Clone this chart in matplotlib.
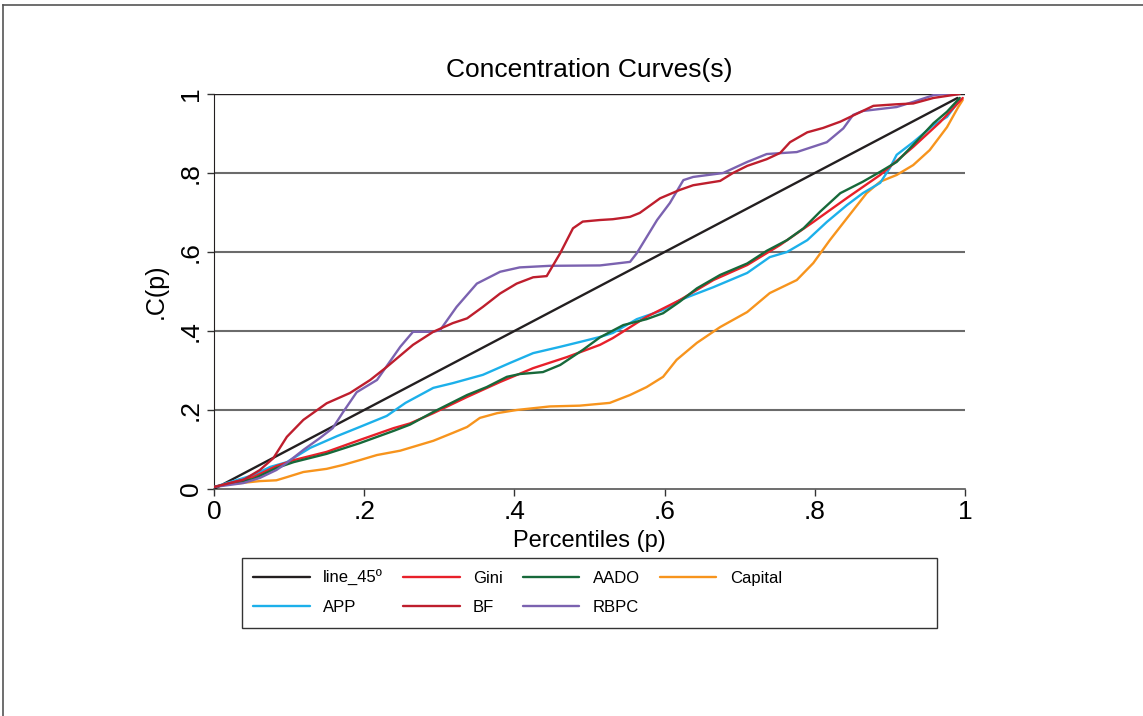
import numpy as np
import matplotlib
matplotlib.use("Agg")
import matplotlib.pyplot as plt
from matplotlib.lines import Line2D
from matplotlib.patches import Rectangle

plt.rcParams['font.family'] = ['Liberation Sans Narrow', 'Liberation Sans', 'DejaVu Sans']

# concentration curves: percentile p -> C(p)
line45_x = [0.0, 0.99]
line45_y = [0.0, 0.99]

gini_x = [0.0, 0.052, 0.083, 0.106, 0.15, 0.194, 0.239, 0.261, 0.292, 0.337, 0.381, 0.425,
          0.47, 0.514, 0.531, 0.576, 0.62, 0.665, 0.71, 0.754, 0.798, 0.843, 0.887, 0.931,
          0.967, 0.997]
gini_y = [0.005, 0.03, 0.058, 0.073, 0.094, 0.124, 0.154, 0.166, 0.192, 0.233, 0.271, 0.306,
          0.334, 0.365, 0.382, 0.436, 0.478, 0.529, 0.567, 0.618, 0.676, 0.737, 0.795, 0.866,
          0.929, 0.99]

aado_x = [0.0, 0.052, 0.083, 0.106, 0.15, 0.194, 0.239, 0.261, 0.292, 0.337, 0.363, 0.39,
          0.407, 0.438, 0.461, 0.491, 0.514, 0.545, 0.576, 0.598, 0.62, 0.643, 0.674, 0.71,
          0.736, 0.763, 0.785, 0.807, 0.834, 0.864, 0.887, 0.909, 0.931, 0.958, 0.976, 0.993]
aado_y = [0.005, 0.025, 0.053, 0.068, 0.089, 0.116, 0.147, 0.163, 0.195, 0.238, 0.258, 0.284,
          0.291, 0.296, 0.314, 0.352, 0.384, 0.415, 0.43, 0.445, 0.474, 0.508, 0.542, 0.571,
          0.603, 0.63, 0.66, 0.702, 0.749, 0.778, 0.803, 0.828, 0.871, 0.926, 0.955, 0.99]

capital_x = [0.025, 0.061, 0.083, 0.097, 0.119, 0.15, 0.172, 0.194, 0.217, 0.248, 0.292,
             0.318, 0.337, 0.354, 0.377, 0.403, 0.447, 0.487, 0.527, 0.554, 0.576, 0.598,
             0.616, 0.643, 0.674, 0.71, 0.74, 0.776, 0.798, 0.82, 0.843, 0.869, 0.887, 0.909,
             0.931, 0.953, 0.976, 0.991, 0.997]
capital_y = [0.013, 0.02, 0.022, 0.03, 0.043, 0.051, 0.061, 0.073, 0.086, 0.097, 0.122,
             0.142, 0.157, 0.18, 0.192, 0.2, 0.209, 0.211, 0.218, 0.238, 0.258, 0.284,
             0.327, 0.37, 0.41, 0.448, 0.496, 0.529, 0.572, 0.63, 0.686, 0.749, 0.778, 0.795,
             0.82, 0.858, 0.916, 0.967, 0.985]

app_x = [0.0, 0.052, 0.075, 0.097, 0.128, 0.164, 0.194, 0.23, 0.255, 0.292, 0.318, 0.358,
         0.394, 0.425, 0.461, 0.491, 0.514, 0.531, 0.563, 0.598, 0.62, 0.665, 0.71, 0.74,
         0.763, 0.79, 0.816, 0.843, 0.864, 0.887, 0.9, 0.909, 0.931, 0.958, 0.976, 0.993]
app_y = [0.005, 0.035, 0.056, 0.068, 0.104, 0.134, 0.157, 0.185, 0.218, 0.256, 0.268, 0.289,
         0.319, 0.344, 0.36, 0.374, 0.385, 0.395, 0.43, 0.453, 0.478, 0.511, 0.547, 0.587,
         0.6, 0.63, 0.676, 0.719, 0.749, 0.775, 0.813, 0.846, 0.878, 0.921, 0.942, 0.985]

bf_x = [0.0, 0.039, 0.061, 0.079, 0.097, 0.119, 0.15, 0.181, 0.208, 0.23, 0.265, 0.292,
        0.318, 0.337, 0.358, 0.381, 0.403, 0.425, 0.443, 0.461, 0.478, 0.491, 0.514, 0.531,
        0.554, 0.567, 0.594, 0.62, 0.638, 0.674, 0.691, 0.71, 0.736, 0.754, 0.767, 0.79,
        0.811, 0.834, 0.878, 0.909, 0.931, 0.958, 0.993]
bf_y = [0.005, 0.023, 0.048, 0.078, 0.132, 0.175, 0.217, 0.243, 0.276, 0.309, 0.365, 0.398,
        0.42, 0.432, 0.461, 0.495, 0.52, 0.536, 0.539, 0.597, 0.66, 0.677, 0.681, 0.683,
        0.689, 0.699, 0.736, 0.757, 0.769, 0.78, 0.8, 0.818, 0.835, 0.851, 0.878, 0.903,
        0.914, 0.93, 0.97, 0.974, 0.976, 0.99, 1.0]

rbpc_x = [0.0, 0.039, 0.061, 0.083, 0.097, 0.119, 0.141, 0.158, 0.172, 0.19, 0.217, 0.234,
          0.248, 0.265, 0.292, 0.301, 0.323, 0.35, 0.381, 0.407, 0.447, 0.514, 0.554, 0.563,
          0.59, 0.607, 0.625, 0.638, 0.678, 0.71, 0.736, 0.776, 0.816, 0.838, 0.851, 0.864,
          0.909, 0.931, 0.958, 0.971, 0.99]
rbpc_y = [0.005, 0.015, 0.028, 0.048, 0.066, 0.099, 0.129, 0.154, 0.195, 0.245, 0.276, 0.322,
          0.36, 0.398, 0.398, 0.402, 0.461, 0.52, 0.55, 0.561, 0.565, 0.566, 0.575, 0.597,
          0.681, 0.724, 0.782, 0.79, 0.8, 0.828, 0.848, 0.853, 0.878, 0.913, 0.947, 0.957,
          0.967, 0.98, 0.997, 1.0, 1.0]

series = [
    ("line_45º", line45_x, line45_y, "#231f20"),
    ("APP", app_x, app_y, "#1cb0ea"),
    ("Gini", gini_x, gini_y, "#e8202a"),
    ("BF", bf_x, bf_y, "#be1e2d"),
    ("AADO", aado_x, aado_y, "#17693a"),
    ("RBPC", rbpc_x, rbpc_y, "#7b62b0"),
    ("Capital", capital_x, capital_y, "#f7941d"),
]

fig = plt.figure(figsize=(11.43, 7.16), dpi=100)
ax = fig.add_axes([214 / 1143, 1 - 489 / 716, 751 / 1143, 395 / 716])

for yv in [0.2, 0.4, 0.6, 0.8]:
    ax.axhline(yv, color="#6b6b6b", lw=1.5, zorder=1)
ax.axhline(1.0, color="#231f20", lw=1.0, zorder=1)

draw_order = ["line_45º", "Capital", "APP", "Gini", "AADO", "RBPC", "BF"]
handles = {}
for name, xs, ys, col in series:
    (ln,) = ax.plot(xs, ys, color=col, lw=1.7, solid_capstyle="round",
                    zorder=3 + draw_order.index(name))
    handles[name] = ln

ax.set_xlim(0, 1)
ax.set_ylim(0, 1)
ticks = [0, 0.2, 0.4, 0.6, 0.8, 1]
tlabels = ["0", ".2", ".4", ".6", ".8", "1"]
ax.set_xticks(ticks)
ax.set_xticklabels(tlabels, fontsize=19)
ax.set_yticks(ticks)
ax.set_yticklabels(tlabels, fontsize=19, rotation=90, va="center")
ax.tick_params(axis="both", direction="out", length=5, width=1, color="#333333", pad=3)

for side in ["top", "right"]:
    ax.spines[side].set_visible(False)
ax.spines["left"].set_color("#231f20")
ax.spines["bottom"].set_color("#555555")
ax.spines["bottom"].set_linewidth(1.2)

ax.set_xlabel("Percentiles (p)", fontsize=17, labelpad=4)
ax.set_ylabel(".C(p)", fontsize=18, labelpad=8)
ax.set_title("Concentration Curves(s)", fontsize=19, pad=12)

# legend inside its own wide box
fig.patches.append(Rectangle((242 / 1143, 1 - 628 / 716), 695 / 1143, 70 / 716,
                             transform=fig.transFigure, fill=False,
                             edgecolor="#333333", lw=1.0))
leg = fig.legend([handles[s[0]] for s in series], [s[0] for s in series],
                 ncol=4, loc="upper left", bbox_to_anchor=(253 / 1143, 1 - 570 / 716),
                 frameon=False, fontsize=12, handlelength=3.4, handletextpad=0.8,
                 columnspacing=1.2, labelspacing=0.85, borderpad=0, borderaxespad=0)

# outer frame of the graph region
fig.add_artist(Line2D([3 / 1143, 1.0], [1 - 5 / 716, 1 - 5 / 716],
                      transform=fig.transFigure, color="#555555", lw=1.2))
fig.add_artist(Line2D([3 / 1143, 3 / 1143], [0.0, 1 - 5 / 716],
                      transform=fig.transFigure, color="#555555", lw=1.2))

fig.savefig("out.png", dpi=100, facecolor="white")
